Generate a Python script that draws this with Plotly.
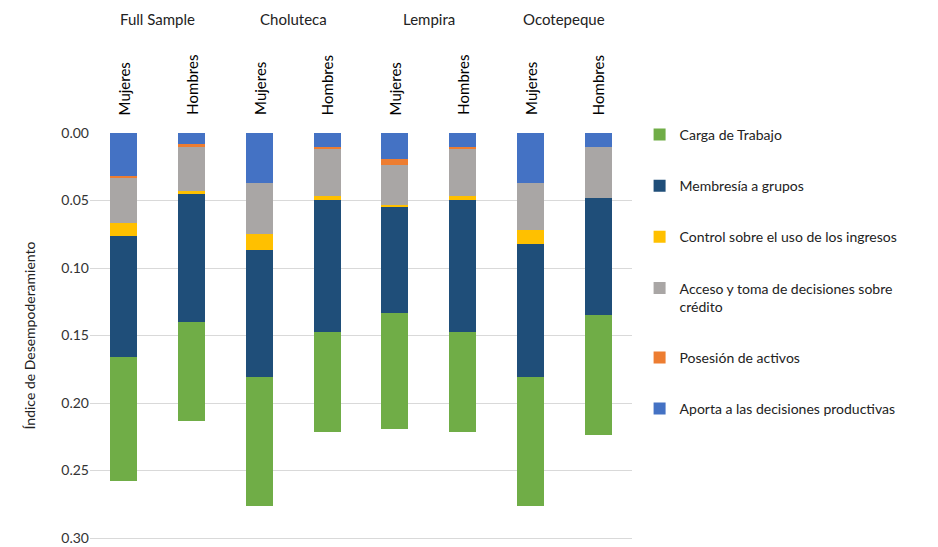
import plotly.graph_objects as go

# categories (bars), left to right
bars = ["FS_M", "FS_H", "CH_M", "CH_H", "LE_M", "LE_H", "OC_M", "OC_H"]
sexo = ["Mujeres", "Hombres"] * 4
grupos = ["Full Sample", "Choluteca", "Lempira", "Ocotepeque"]

# contributions per dimension (stacked from 0 downward)
aporta = [0.032, 0.008, 0.037, 0.011, 0.019, 0.011, 0.037, 0.010]
posesion = [0.001, 0.002, 0.000, 0.0005, 0.005, 0.0005, 0.000, 0.000]
acceso = [0.034, 0.033, 0.038, 0.035, 0.029, 0.035, 0.035, 0.038]
control = [0.009, 0.002, 0.012, 0.003, 0.002, 0.003, 0.010, 0.000]
membresia = [0.090, 0.095, 0.094, 0.098, 0.078, 0.098, 0.099, 0.087]
carga = [0.092, 0.073, 0.095, 0.074, 0.086, 0.074, 0.095, 0.089]

series = [
    ("Aporta a las decisiones productivas", aporta, "#4472C4"),
    ("Posesión de activos", posesion, "#ED7D31"),
    ("Acceso y toma de decisiones sobre<br>crédito", acceso, "#A9A6A5"),
    ("Control sobre el uso de los ingresos", control, "#FFC000"),
    ("Membresía a grupos", membresia, "#1F4E79"),
    ("Carga de Trabajo", carga, "#70AD47"),
]

FONT = "Lato"

fig = go.Figure()
for i, (name, vals, color) in enumerate(series):
    fig.add_trace(go.Bar(x=bars, y=vals, name=name, marker_color=color,
                         marker_line_width=0, legendgroup=str(i),
                         legendrank=len(series) - i))

# vertical category labels at top
for b, s in zip(bars, sexo):
    fig.add_annotation(x=b, y=1, xref="x", yref="paper", yshift=16,
                       text=s, textangle=-90, showarrow=False,
                       yanchor="bottom", font=dict(family=FONT, size=15, color="black"))

# region labels
for i, g in enumerate(grupos):
    fig.add_annotation(x=2 * i + 0.5, y=1, xref="x", yref="paper", yshift=103,
                       text=g, showarrow=False, yanchor="bottom",
                       font=dict(family=FONT, size=15, color="#222"))

# page body has an 8px margin, so the figure is a bit smaller than the window
fig.update_layout(
    width=930, height=539,
    barmode="stack", bargap=0.6,
    margin=dict(l=82, r=306, t=125, b=9, autoexpand=False),
    plot_bgcolor="white", paper_bgcolor="white",
    font=dict(family=FONT, size=14, color="#333"),
    legend=dict(x=1.014, xanchor="left", y=1.035, yanchor="top",
                traceorder="grouped", tracegroupgap=30, valign="top",
                maxheight=500,
                font=dict(family=FONT, size=14, color="#222")),
)
fig.update_xaxes(showticklabels=False, showgrid=False, zeroline=False,
                 showline=True, linecolor="#D9D9D9", linewidth=1)
fig.update_yaxes(range=[0.30, 0], tickvals=[0, 0.05, 0.10, 0.15, 0.20, 0.25, 0.30],
                 tickformat=".2f", showgrid=True, gridcolor="#D9D9D9", gridwidth=1,
                 zeroline=False, ticks="", ticklabelstandoff=0, automargin=False,
                 ticklabeloverflow="allow",
                 tickfont=dict(family=FONT, size=14, color="#333"),
                 title=dict(text="Índice de Desempoderamiento", standoff=22,
                            font=dict(family=FONT, size=14, color="#222")))

fig.write_html("out.html")
